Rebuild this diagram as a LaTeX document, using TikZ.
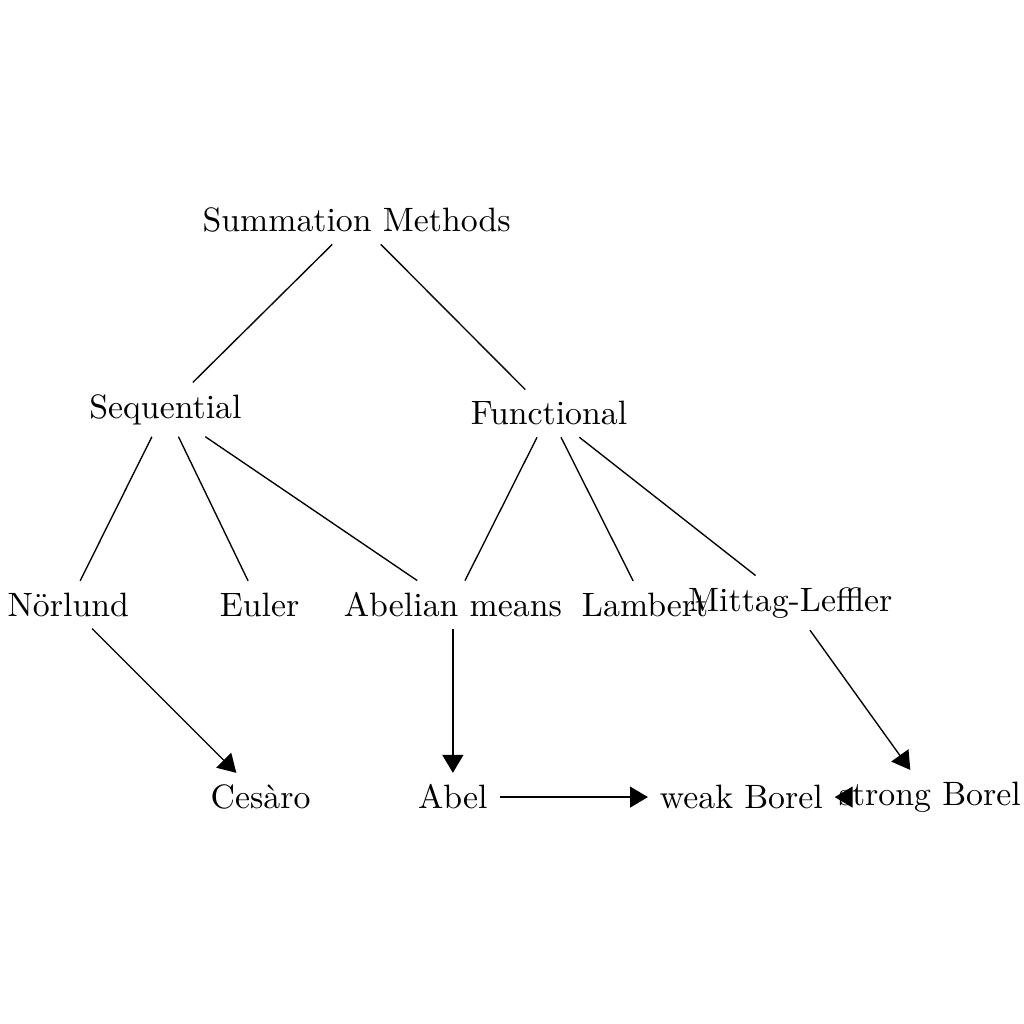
\documentclass[tikz,border=0pt]{standalone}
\usepackage{amsmath}
\usepackage{tikz}
\usetikzlibrary{arrows.meta}

\begin{document}
\begin{tikzpicture}[arr/.style={-{Triangle[length=5.3pt,width=6.2pt]}}]
\useasboundingbox (0,0) rectangle (10.65,10.65);

% Top
\node (sm) at (3.71,8.36) {Summation Methods};

% Second level
\node (seq) at (1.72,6.39) {Sequential};
\node (fun) at (5.71,6.35) {Functional};

% Third level
\node (nor) at (0.71,4.36) {N\"orlund};
\node (eul) at (2.70,4.36) {Euler};
\node (abm) at (4.71,4.36) {Abelian means};
\node (lam) at (6.71,4.36) {Lambert};
\node (mit) at (8.22,4.38) {Mittag-Leffler};

% Bottom
\node (ces) at (2.71,2.36) {Ces\`aro};
\node (abl) at (4.71,2.36) {Abel};
\node (wbo) at (7.71,2.36) {weak Borel};
\node (sbo) at (9.67,2.36) {strong Borel};

% Tree edges
\draw (sm) -- (seq);
\draw (sm) -- (fun);
\foreach \n in {nor,eul,abm} {
    \draw (seq) -- (\n);
}
\foreach \n in {abm,lam,mit} {
    \draw (fun) -- (\n);
}

% Implications
\draw[arr] (nor) -- (ces);
\draw[arr] (abm) -- (abl);
\draw[arr] (abl) -- (wbo);
\draw[arr] (mit) -- (sbo);
\draw[arr] ([xshift=5pt]sbo.west) -- (wbo.east);
\end{tikzpicture}
\end{document}
